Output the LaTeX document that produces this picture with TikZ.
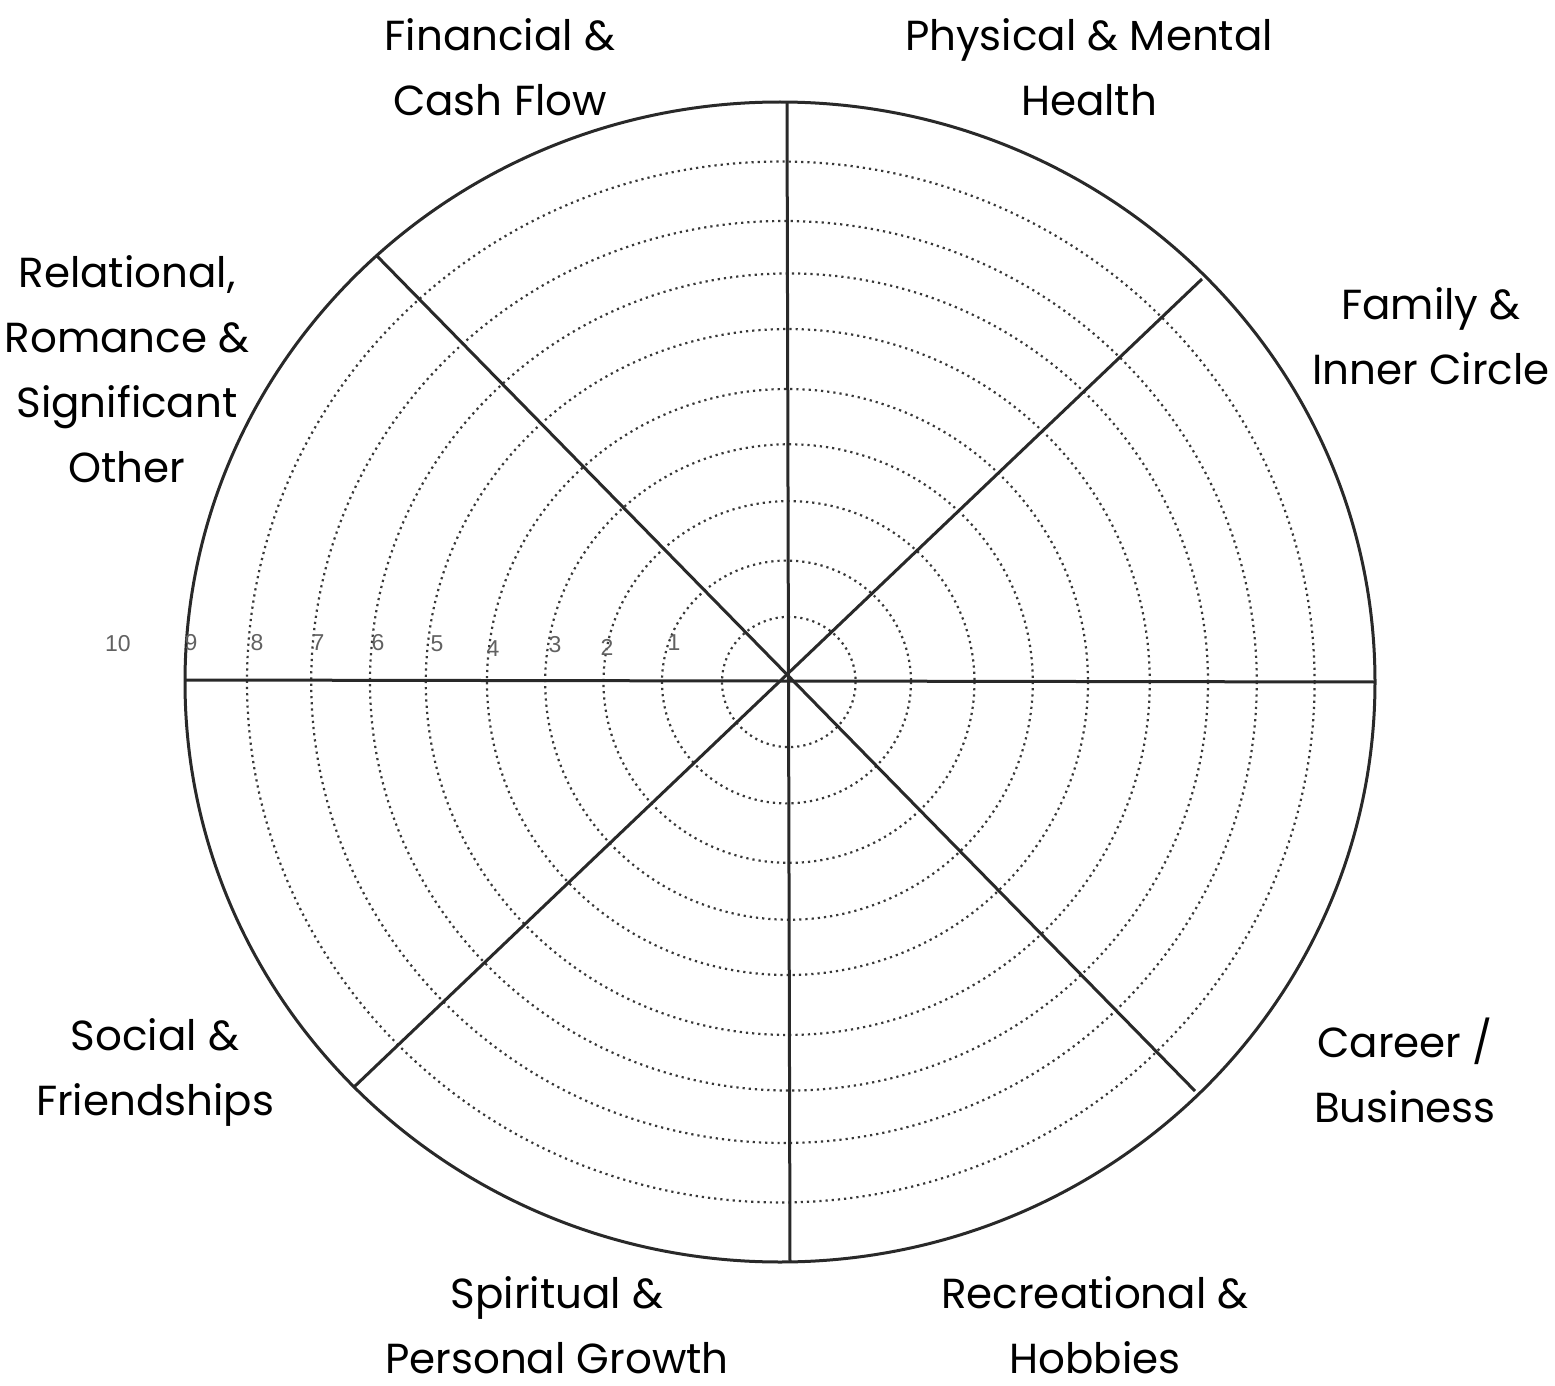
\documentclass[tikz,border=0pt]{standalone}
\usepackage{fontspec}
\setmainfont{Poppins}
\newfontfamily\escalafont{Liberation Sans}
\definecolor{ejegris}{rgb}{0.16,0.16,0.16}
\definecolor{anillogris}{rgb}{0.22,0.22,0.22}
\definecolor{numgris}{rgb}{0.38,0.38,0.38}
\tikzset{
  area/.style={
    align=center,
    inner sep=0pt,
    font=\fontsize{21}{32.5}\selectfont
  },
  nivel/.style={
    inner sep=0pt,
    text=numgris,
    font=\escalafont\fontsize{11.5}{11.5}\selectfont
  },
  anillo/.style={
    draw=anillogris,
    line width=1.1pt,
    dotted
  },
  eje/.style={
    draw=ejegris,
    line width=1.5pt
  }
}
\begin{document}
\begin{tikzpicture}[x=0.5pt,y=-0.5pt]
\useasboundingbox (0,0) rectangle (1555,1386);
% rings 1..9, centre x and radius
\foreach \cx/\r in {788.8/66.8,786.5/124.5,789/185.5,789/243.8,787.5/300.5,787.8/362,789/419,784/472.8,780.8/533.8}
  \draw[anillo] (\cx,682) ellipse [x radius=\r, y radius=0.975*\r];
% outer ring
\draw[eje] (780,682) ellipse [x radius=595, y radius=580];
% spokes
\coordinate (n) at (787,102);
\coordinate (s) at (790,1262);
\coordinate (w) at (185,680);
\coordinate (e) at (1375,682);
\coordinate (nw) at (376,255);
\coordinate (se) at (1195,1091);
\coordinate (ne) at (1202,279);
\coordinate (sw) at (354,1087);
\draw[eje] (n) -- (s);
\draw[eje] (w) -- (e);
\draw[eje] (nw) -- (se);
\draw[eje] (ne) -- (sw);
% scale numbers
\foreach \x/\y/\k in {118/644/10,191/643/9,257/643/8,318/643/7,378/643/6,437/644/5,493/649/4,555/645/3,607/647/2,674/643/1}
  \node[nivel] (num\k) at (\x,\y) {\k};
% areas
\node[area] (financiero) at (500,67) {Financial \&\\Cash Flow};
\node[area] (salud) at (1089,67) {Physical \& Mental\\Health};
\node[area] (familia) at (1431,336) {Family \&\\Inner Circle};
\node[area] (pareja) at (127,369) {Relational,\\Romance \&\\Significant\\Other};
\node[area] (social) at (155,1072) {Social \&\\Friendships};
\node[area] (carrera) at (1405,1070) {Career /\\Business};
\node[area] (espiritual) at (557,1325) {Spiritual \&\\Personal Growth};
\node[area] (ocio) at (1095,1325) {Recreational \&\\Hobbies};
\end{tikzpicture}
\end{document}
